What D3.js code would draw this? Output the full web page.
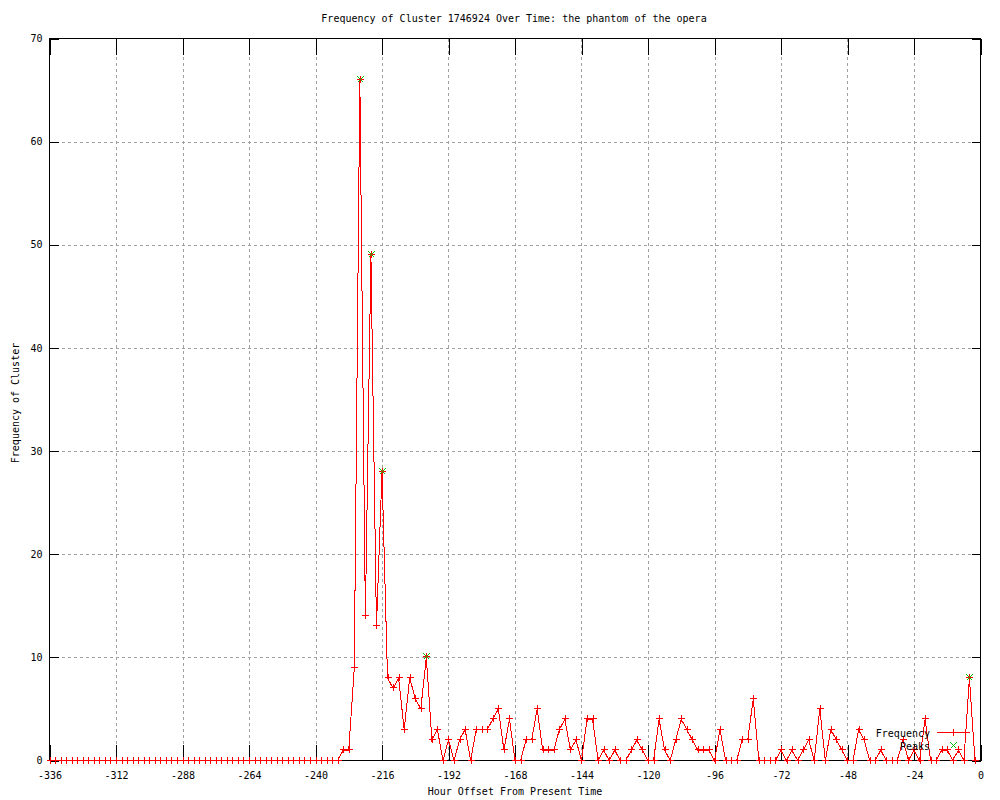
<!DOCTYPE html>
<html>
<head>
<meta charset="utf-8">
<script src="https://cdn.jsdelivr.net/npm/d3@7"></script>
<style>
  body { margin: 0; background: #fff; }
  svg { display: block; }
  text { font-family: "DejaVu Sans Mono", monospace; font-size: 10px; fill: #000; }
</style>
</head>
<body>
<div id="chart"></div>
<script>
// hour offsets (x) and cluster frequency (y)
var hours = [
  -336, -334, -332, -330, -328, -326, -324, -322, -320, -318, -316, -314, -312, -310,
  -308, -306, -304, -302, -300, -298, -296, -294, -292, -290, -288, -286, -284, -282,
  -280, -278, -276, -274, -272, -270, -268, -266, -264, -262, -260, -258, -256, -254,
  -252, -250, -248, -246, -244, -242, -240, -238, -236, -234, -232, -230, -228, -226,
  -224, -222, -220, -218, -216, -214, -212, -210, -208, -206, -204, -202, -200, -198,
  -196, -194, -192, -190, -188, -186, -184, -182, -180, -178, -176, -174, -172, -170,
  -168, -166, -164, -162, -160, -158, -156, -154, -152, -150, -148, -146, -144, -142,
  -140, -138, -136, -134, -132, -130, -128, -126, -124, -122, -120, -118, -116, -114,
  -112, -110, -108, -106, -104, -102, -100, -98, -96, -94, -92, -90, -88, -86,
  -84, -82, -80, -78, -76, -74, -72, -70, -68, -66, -64, -62, -60, -58,
  -56, -54, -52, -50, -48, -46, -44, -42, -40, -38, -36, -34, -32, -30,
  -28, -26, -24, -22, -20, -18, -16, -14, -12, -10, -8, -6, -4, -2
];
var frequency = [
  0, 0, 0, 0, 0, 0, 0, 0, 0, 0, 0, 0, 0, 0,
  0, 0, 0, 0, 0, 0, 0, 0, 0, 0, 0, 0, 0, 0,
  0, 0, 0, 0, 0, 0, 0, 0, 0, 0, 0, 0, 0, 0,
  0, 0, 0, 0, 0, 0, 0, 0, 0, 0, 0, 1, 1, 9,
  66, 14, 49, 13, 28, 8, 7, 8, 3, 8, 6, 5, 10, 2,
  3, 0, 2, 0, 2, 3, 0, 3, 3, 3, 4, 5, 1, 4,
  0, 0, 2, 2, 5, 1, 1, 1, 3, 4, 1, 2, 0, 4,
  4, 0, 1, 0, 1, 0, 0, 1, 2, 1, 0, 0, 4, 1,
  0, 2, 4, 3, 2, 1, 1, 1, 0, 3, 0, 0, 0, 2,
  2, 6, 0, 0, 0, 0, 1, 0, 1, 0, 1, 2, 0, 5,
  0, 3, 2, 1, 0, 0, 3, 2, 0, 0, 1, 0, 0, 0,
  2, 0, 1, 0, 4, 0, 0, 1, 1, 0, 1, 0, 8, 0
];
var peakHours = [-224, -220, -216, -200, -4];
var peakValues = [66, 49, 28, 10, 8];

var xTicks = [-336, -312, -288, -264, -240, -216, -192, -168, -144, -120, -96, -72, -48, -24, 0];
var yTicks = [0, 10, 20, 30, 40, 50, 60, 70];

var titleText = "Frequency of Cluster 1746924 Over Time: the phantom of the opera";
var xLabel = "Hour Offset From Present Time";
var yLabel = "Frequency of Cluster";

var w = 1000, h = 800;
var plotLeft = 49.5, plotRight = 980.5, plotTop = 38.5, plotBottom = 760.5;
var tickLen = 16;

var svg = d3.select("#chart").append("svg")
  .attr("width", w)
  .attr("height", h);

var xScale = d3.scaleLinear().domain([-336, 0]).range([plotLeft, plotRight]);
var yScale = d3.scaleLinear().domain([0, 70]).range([plotBottom, plotTop]);

// grid (dotted grey)
svg.append("g").selectAll("line")
  .data(xTicks.slice(1, -1))
  .enter().append("line")
  .attr("x1", function(d) { return Math.round(xScale(d)) + 0.5; })
  .attr("x2", function(d) { return Math.round(xScale(d)) + 0.5; })
  .attr("y1", plotTop).attr("y2", plotBottom)
  .attr("stroke", "#a0a0a0")
  .attr("stroke-dasharray", "3,3")
  .attr("shape-rendering", "crispEdges");

svg.append("g").selectAll("line")
  .data(yTicks.slice(1, -1))
  .enter().append("line")
  .attr("y1", function(d) { return Math.round(yScale(d)) + 0.5; })
  .attr("y2", function(d) { return Math.round(yScale(d)) + 0.5; })
  .attr("x1", plotLeft).attr("x2", plotRight)
  .attr("stroke", "#a0a0a0")
  .attr("stroke-dasharray", "3,3")
  .attr("shape-rendering", "crispEdges");

// axes, ticks pointing inward, mirrored on top/right
var xAxis = d3.axisBottom(xScale).tickValues(xTicks).tickSize(-tickLen).tickPadding(11)
  .tickFormat(function(d) { return String(d); });
var xAxisTop = d3.axisTop(xScale).tickValues(xTicks).tickSize(-tickLen).tickFormat("");
var yAxis = d3.axisLeft(yScale).tickValues(yTicks).tickSize(-9).tickPadding(7);
var yAxisRight = d3.axisRight(yScale).tickValues(yTicks).tickSize(-9).tickFormat("");

function styleAxis(g) {
  g.select(".domain").remove();
  g.selectAll("line").attr("stroke", "#000").attr("shape-rendering", "crispEdges");
  g.selectAll("text")
    .attr("font-family", "DejaVu Sans Mono, monospace")
    .attr("font-size", 10)
    .attr("fill", "#000");
}

svg.append("g").attr("transform", "translate(0," + plotBottom + ")").call(xAxis).call(styleAxis);
svg.append("g").attr("transform", "translate(0," + plotTop + ")").call(xAxisTop).call(styleAxis);
svg.append("g").attr("transform", "translate(" + plotLeft + ",0)").call(yAxis).call(styleAxis);
svg.append("g").attr("transform", "translate(" + plotRight + ",0)").call(yAxisRight).call(styleAxis);

// border
svg.append("rect")
  .attr("x", plotLeft).attr("y", plotTop)
  .attr("width", plotRight - plotLeft).attr("height", plotBottom - plotTop)
  .attr("fill", "none").attr("stroke", "#000")
  .attr("shape-rendering", "crispEdges");

// frequency line (aliased, like the png terminal)
var line = d3.line()
  .x(function(d, i) { return xScale(hours[i]); })
  .y(function(d) { return yScale(d); });

svg.append("path")
  .datum(frequency)
  .attr("d", line)
  .attr("fill", "none")
  .attr("stroke", "#ff0000")
  .attr("stroke-width", 1)
  .attr("shape-rendering", "crispEdges");

var ps = 3.5;
function plus(sel, cx, cy, color) {
  sel.append("path")
    .attr("d", "M" + (cx - ps) + "," + cy + "H" + (cx + ps) + "M" + cx + "," + (cy - ps) + "V" + (cy + ps))
    .attr("stroke", color).attr("fill", "none")
    .attr("shape-rendering", "crispEdges");
}
function cross(sel, cx, cy, color) {
  var s = 3;
  sel.append("path")
    .attr("d", "M" + (cx - s) + "," + (cy - s) + "L" + (cx + s) + "," + (cy + s) +
               "M" + (cx - s) + "," + (cy + s) + "L" + (cx + s) + "," + (cy - s))
    .attr("stroke", color).attr("fill", "none")
    .attr("shape-rendering", "crispEdges");
}

var marks = svg.append("g");
frequency.forEach(function(d, i) {
  plus(marks, Math.round(xScale(hours[i])) + 0.5, Math.round(yScale(d)) - 0.5, "#ff0000");
});

var peakMarks = svg.append("g");
peakValues.forEach(function(d, i) {
  cross(peakMarks, Math.round(xScale(peakHours[i])) + 0.5, Math.round(yScale(d)) - 0.5, "#00c000");
});

// legend
var legend = svg.append("g");
legend.append("text").attr("x", 930).attr("y", 736.5).attr("text-anchor", "end").text("Frequency");
legend.append("line").attr("x1", 937).attr("x2", 970).attr("y1", 732.5).attr("y2", 732.5)
  .attr("stroke", "#ff0000").attr("shape-rendering", "crispEdges");
plus(legend, 953.5, 732.5, "#ff0000");
legend.append("text").attr("x", 930).attr("y", 749.5).attr("text-anchor", "end").text("Peaks");
cross(legend, 953.5, 745.5, "#00c000");

// titles
svg.append("text").attr("x", 514).attr("y", 22).attr("text-anchor", "middle").text(titleText);
svg.append("text").attr("x", 515).attr("y", 795).attr("text-anchor", "middle").text(xLabel);
svg.append("text")
  .attr("transform", "translate(19,403) rotate(-90)")
  .attr("text-anchor", "middle")
  .text(yLabel);
</script>
</body>
</html>
